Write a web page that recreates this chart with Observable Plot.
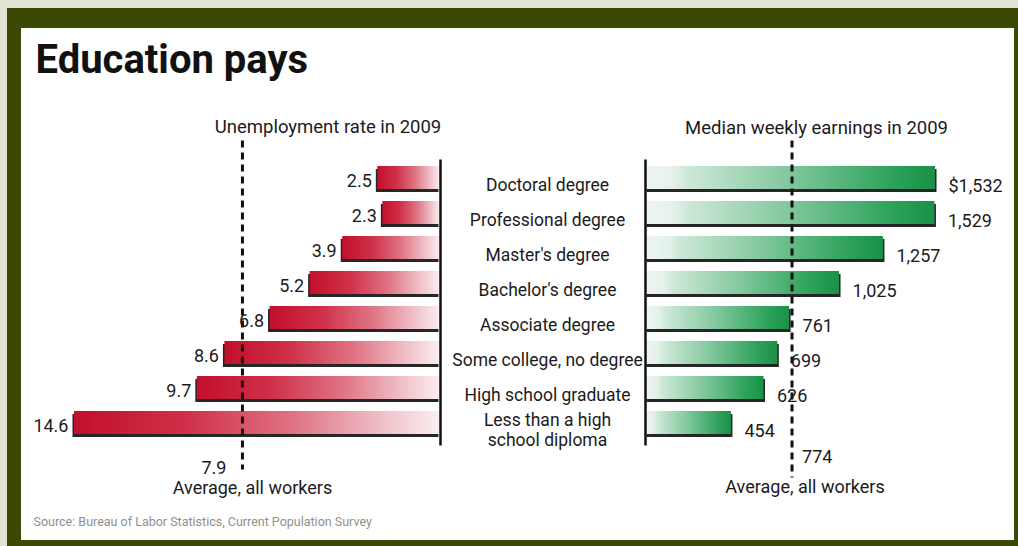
<!DOCTYPE html>
<html>
<head>
<meta charset="utf-8">
<script src="https://cdn.jsdelivr.net/npm/d3@7"></script>
<script src="https://cdn.jsdelivr.net/npm/@observablehq/plot@0.6"></script>
<style>
  html, body { margin: 0; padding: 0; background: #fff; }
  #wrap { position: relative; width: 1018px; height: 546px; overflow: hidden; background: #e2e5d6; }
  #dark { position: absolute; left: 7px; top: 8px; right: 0; bottom: 0; background: #3a4903; }
  #inner { position: absolute; left: 21px; top: 28px; width: 993px; height: 512px; background: #fff; }
  #wrap svg { position: absolute; left: 0; top: 0; }
</style>
</head>
<body>
<div id="wrap"><div id="dark"></div><div id="inner"></div></div>
<script>
// ---- data ----
const categories = [
  "Doctoral degree",
  "Professional degree",
  "Master's degree",
  "Bachelor's degree",
  "Associate degree",
  "Some college, no degree",
  "High school graduate",
  "Less than a high\nschool diploma"
];
const unemploymentRates = [2.5, 2.3, 3.9, 5.2, 6.8, 8.6, 9.7, 14.6];
const weeklyEarnings = [1532, 1529, 1257, 1025, 761, 699, 626, 454];
const earningsLabels = ["$1,532", "1,529", "1,257", "1,025", "761", "699", "626", "454"];
const unemploymentAverage = [7.9];
const earningsAverage = [774];
const averageLabel = "Average, all workers";
const titleText = "Education pays";
const leftSubtitle = "Unemployment rate in 2009";
const rightSubtitle = "Median weekly earnings in 2009";
const sourceText = "Source: Bureau of Labor Statistics, Current Population Survey";

const rows = categories.map((c, i) => ({
  category: c, rate: unemploymentRates[i], pay: weeklyEarnings[i], payLabel: earningsLabels[i]
}));

// ---- layout ----
const W = 1018, H = 546;
const FONT = "Roboto, sans-serif";
const TXT = "#1c1a1b";
const yScale = { domain: categories, paddingInner: 0.35, paddingOuter: 0.175, axis: null };
const mT = 157.5, mB = 103.5;

const leftPlot = Plot.plot({
  width: W, height: H,
  marginLeft: 38.9, marginRight: 578, marginTop: mT, marginBottom: mB,
  x: { domain: [0, 16], reverse: true, axis: null },
  y: yScale,
  style: { background: "transparent", fontFamily: FONT, overflow: "visible" },
  marks: [
    Plot.barX(rows, { x: "rate", y: "category", fill: "#262626", dy: 3, dx: -1.5 }),
    Plot.barX(rows, { x: "rate", y: "category", fill: "url(#redGrad)" }),
    Plot.ruleX([0], { stroke: "#111", strokeWidth: 2.5, insetTop: 2, insetBottom: -3 }),
    Plot.ruleX(unemploymentAverage, { stroke: "#111", strokeWidth: 3, strokeDasharray: "7 5", insetTop: -17, insetBottom: -27 }),
    Plot.text(rows, { x: "rate", y: "category", text: d => d.rate.toFixed(1), textAnchor: "end", dx: -6, dy: 3, fontSize: 18, fill: TXT }),
    Plot.text(rows, { y: "category", text: "category", frameAnchor: "right", dx: 107, dy: 6.5, textAnchor: "middle", fontSize: 17.5, lineHeight: 1.12, fill: TXT }),
    Plot.text(unemploymentAverage, { x: d => d, text: d => String(d), frameAnchor: "bottom", textAnchor: "end", lineAnchor: "bottom", dx: -16, dy: 30.5, fontSize: 18, fill: TXT }),
    Plot.text(unemploymentAverage, { x: d => d, text: [averageLabel], frameAnchor: "bottom", textAnchor: "middle", lineAnchor: "bottom", dx: 10, dy: 50.5, fontSize: 18, fill: TXT }),
    Plot.text([leftSubtitle], { frameAnchor: "top-right", textAnchor: "middle", lineAnchor: "bottom", dx: -112.5, dy: -25.5, fontSize: 18.5, fill: TXT }),
    Plot.text([titleText], { frameAnchor: "top-left", textAnchor: "start", lineAnchor: "bottom", dx: -3.9, dy: -85.5, fontSize: 40, fontWeight: "bold", fill: "#111" }),
    Plot.text([sourceText], { frameAnchor: "bottom-left", textAnchor: "start", lineAnchor: "bottom", dx: -5.9, dy: 82.5, fontSize: 12.5, fill: "#8f8f8f" })
  ]
});

const k = 290 / 1532;
const rightPlot = Plot.plot({
  width: W, height: H,
  marginLeft: 645, marginRight: W - 645 - 1800 * k, marginTop: mT, marginBottom: mB,
  x: { domain: [0, 1800], axis: null },
  y: yScale,
  style: { background: "transparent", fontFamily: FONT, overflow: "visible" },
  marks: [
    Plot.barX(rows, { x: "pay", y: "category", fill: "#262626", dy: 3, dx: 1.5 }),
    Plot.barX(rows, { x: "pay", y: "category", fill: "url(#greenGrad)" }),
    Plot.ruleX([0], { stroke: "#111", strokeWidth: 2.5, insetTop: 2, insetBottom: -3 }),
    Plot.ruleX(earningsAverage, { stroke: "#111", strokeWidth: 3, strokeDasharray: "7 5", insetTop: -17, insetBottom: -35 }),
    Plot.text(rows, { x: "pay", y: "category", text: "payLabel", textAnchor: "start", dx: 13, dy: 8, fontSize: 18, fill: TXT }),
    Plot.text(earningsAverage, { x: d => d, text: d => String(d), frameAnchor: "bottom", textAnchor: "start", lineAnchor: "bottom", dx: 10, dy: 19.5, fontSize: 18, fill: TXT }),
    Plot.text(earningsAverage, { x: d => d, text: [averageLabel], frameAnchor: "bottom", textAnchor: "middle", lineAnchor: "bottom", dx: 13, dy: 49.5, fontSize: 18, fill: TXT }),
    Plot.text([rightSubtitle], { frameAnchor: "top-left", textAnchor: "middle", lineAnchor: "bottom", dx: 171, dy: -24.5, fontSize: 18.5, fill: TXT })
  ]
});

function addGradient(svg, id, stops) {
  const defs = d3.select(svg).insert("defs", ":first-child");
  const g = defs.append("linearGradient").attr("id", id)
    .attr("x1", 0).attr("y1", 0).attr("x2", 1).attr("y2", 0);
  stops.forEach(([o, c]) => g.append("stop").attr("offset", o).attr("stop-color", c));
}
addGradient(leftPlot, "redGrad", [[0, "#c20f2d"], [0.3, "#cf2f48"], [0.6, "#df7383"], [0.85, "#f0c2ca"], [1, "#fbeef0"]]);
addGradient(rightPlot, "greenGrad", [[0, "#eef5f6"], [0.1, "#e4f1ea"], [0.14, "#cfe9d9"], [0.5, "#80c79c"], [0.85, "#2ea25b"], [1, "#1a9147"]]);

const wrap = document.getElementById("wrap");
wrap.appendChild(leftPlot);
wrap.appendChild(rightPlot);
</script>
</body>
</html>
